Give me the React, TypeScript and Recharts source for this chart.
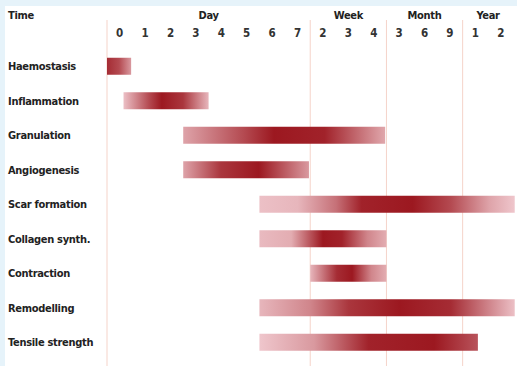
import React from 'react';
import {
  BarChart,
  Bar,
  Cell,
  XAxis,
  YAxis,
  CartesianGrid
} from 'recharts';

// phases, top to bottom
const phases = [
  'Haemostasis',
  'Inflammation',
  'Granulation',
  'Angiogenesis',
  'Scar formation',
  'Collagen synth.',
  'Contraction',
  'Remodelling',
  'Tensile strength'
];

// start / end on the tick index scale (0 = day 0 ... 15 = year 2)
const phaseStart = [-0.5, 0.15, 2.5, 2.5, 5.5, 5.5, 7.5, 5.5, 5.5];
const phaseEnd = [0.45, 3.5, 10.45, 7.45, 15.55, 10.5, 10.5, 15.55, 14.1];

const tickLabels = ['0', '1', '2', '3', '4', '5', '6', '7', '2', '3', '4', '3', '6', '9', '1', '2'];
const tickIndex = [0, 1, 2, 3, 4, 5, 6, 7, 8, 9, 10, 11, 12, 13, 14, 15];
const groupLabels = ['Day', 'Week', 'Month', 'Year'];
const groupCentres = [3.5, 9, 12, 14.5];
const groupBreaks = [-0.5, 7.5, 10.5, 13.5];

const X_DOMAIN = [-0.5, 15.6];

const data = phases.map((name, i) => ({ name, span: [phaseStart[i], phaseEnd[i]] }));

// gradient intensity along each bar: [offset, intensity 0 = pale pink .. 1 = dark red]
const shading: number[][][] = [
  [[0, 0.9], [0.5, 0.75], [1, 0.35]],
  [[0, 0.15], [0.3, 0.75], [0.45, 1], [0.7, 0.85], [1, 0.2]],
  [[0, 0.3], [0.3, 0.75], [0.45, 1], [0.7, 0.95], [1, 0.28]],
  [[0, 0.3], [0.3, 0.85], [0.6, 1], [1, 0.35]],
  [[0, 0.15], [0.15, 0.2], [0.3, 0.55], [0.4, 0.95], [0.6, 1], [0.75, 0.75], [0.9, 0.3], [1, 0.12]],
  [[0, 0.18], [0.25, 0.25], [0.5, 1], [0.65, 0.95], [0.85, 0.45], [1, 0.25]],
  [[0, 0.2], [0.35, 0.9], [0.55, 1], [0.8, 0.45], [1, 0.25]],
  [[0, 0.2], [0.2, 0.45], [0.35, 0.85], [0.55, 1], [0.75, 0.9], [1, 0.15]],
  [[0, 0.12], [0.25, 0.35], [0.5, 0.95], [0.8, 1], [1, 0.7]]
];

const DARK = [156, 24, 32];
const LIGHT = [250, 222, 227];
const shade = (t: number) =>
  `rgb(${DARK.map((d, k) => Math.round(LIGHT[k] + (d - LIGHT[k]) * t)).join(',')})`;

const FONT = '"DejaVu Sans Condensed", "Liberation Sans Narrow", sans-serif';
const TEXT = '#222';

const PhaseTick = ({ y, payload }: any) => (
  <text x={8} y={y} dy={4} textAnchor="start" fontFamily={FONT} fontWeight="bold" fontSize={11} letterSpacing={-0.3} fill={TEXT}>
    {payload.value}
  </text>
);

const NumberTick = ({ x, y, payload }: any) => (
  <text x={x} y={y} dy={39} textAnchor="middle" fontFamily={FONT} fontWeight="bold" fontSize={11.5} fill="#333">
    {tickLabels[payload.value]}
  </text>
);

const GroupTick = ({ x, y, payload }: any) => (
  <text x={x} y={y} dy={7} textAnchor="middle" fontFamily={FONT} fontWeight="bold" fontSize={11} letterSpacing={-0.3} fill={TEXT}>
    {groupLabels[groupCentres.indexOf(payload.value)]}
  </text>
);

// period separators, drawn as grid lines so they sit behind the bars
const breakLines = ({ xAxis, offset }: any) => {
  if (xAxis && typeof xAxis.scale === 'function') return groupBreaks.map((b) => xAxis.scale(b));
  return groupBreaks.map(
    (b) => offset.left + ((b - X_DOMAIN[0]) / (X_DOMAIN[1] - X_DOMAIN[0])) * offset.width
  );
};

const App = () => {
  return (
    <div style={{ position: 'fixed', left: 0, top: 0, width: 517, height: 366, background: '#e6f3fa' }}>
      <div style={{ position: 'absolute', left: 5, top: 6, right: 0, bottom: 0, background: '#fff' }} />
      <div style={{ position: 'absolute', left: 0, top: 0 }}>
        <BarChart
          width={517}
          height={366}
          data={data}
          layout="vertical"
          margin={{ top: 5, right: 1, left: 0, bottom: 0 }}
          barSize={17}
        >
          <defs>
            {shading.map((stops, i) => (
              <linearGradient key={`g-${i}`} id={`g-${i}`} x1="0" y1="0" x2="1" y2="0">
                {stops.map(([o, t], j) => (
                  <stop key={j} offset={o} stopColor={shade(t)} />
                ))}
              </linearGradient>
            ))}
          </defs>
          <CartesianGrid
            xAxisId="num"
            horizontal={false}
            verticalCoordinatesGenerator={breakLines}
            stroke="#f5d3c9"
            strokeWidth={1}
          />
          <XAxis
            xAxisId="grp"
            type="number"
            orientation="top"
            domain={X_DOMAIN}
            ticks={groupCentres}
            tick={<GroupTick />}
            tickLine={false}
            axisLine={false}
            height={14}
            allowDataOverflow
          />
          <XAxis
            xAxisId="num"
            type="number"
            orientation="top"
            domain={X_DOMAIN}
            ticks={tickIndex}
            tick={<NumberTick />}
            tickLine={false}
            axisLine={false}
            height={1}
            allowDataOverflow
            interval={0}
          />
          <YAxis
            type="category"
            dataKey="name"
            width={107}
            tick={<PhaseTick />}
            tickLine={false}
            axisLine={false}
            padding={{ top: 28.75, bottom: 6.75 }}
            interval={0}
            label={{
              content: ({ viewBox }: any) => (
                <text x={8} y={viewBox.y - 1} fontFamily={FONT} fontWeight="bold" fontSize={11} letterSpacing={-0.3} fill={TEXT}>
                  Time
                </text>
              )
            }}
          />
          <Bar dataKey="span" xAxisId="num" isAnimationActive={false}>
            {data.map((d, i) => (
              <Cell key={d.name} fill={`url(#g-${i})`} />
            ))}
          </Bar>
        </BarChart>
      </div>
    </div>
  );
};

export default App;
